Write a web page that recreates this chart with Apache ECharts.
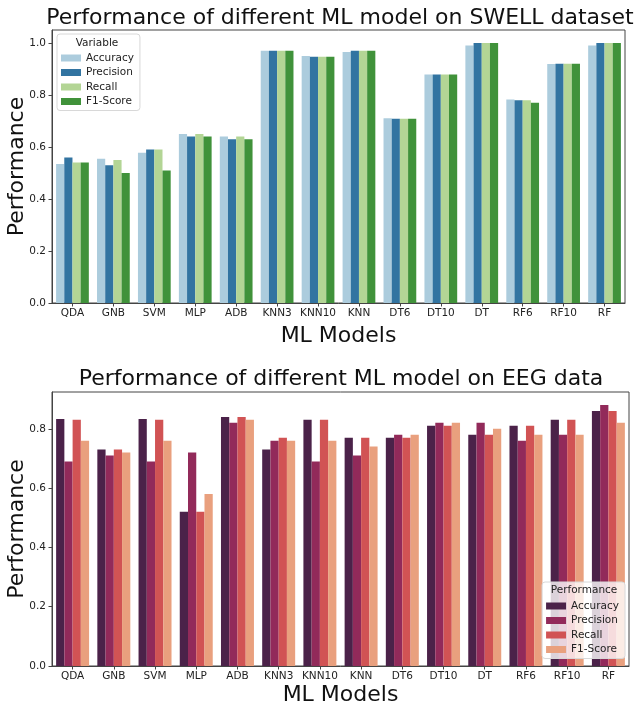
<!DOCTYPE html>
<html><head><meta charset="utf-8">
<script src="https://cdn.jsdelivr.net/npm/echarts@6/dist/echarts.min.js"></script>
<style>html,body{margin:0;padding:0;background:#fff}#c{width:634px;height:707px}</style>
</head><body><div id="c"></div>
<script>
const models = ['QDA','GNB','SVM','MLP','ADB','KNN3','KNN10','KNN','DT6','DT10','DT','RF6','RF10','RF'];
const metrics = ['Accuracy','Precision','Recall','F1-Score'];
const swellAccuracy  = [0.535,0.555,0.578,0.65,0.64,0.97,0.95,0.965,0.711,0.879,0.99,0.783,0.919,0.99];
const swellPrecision = [0.56,0.53,0.59,0.64,0.63,0.97,0.947,0.97,0.709,0.879,1.0,0.78,0.92,1.0];
const swellRecall    = [0.54,0.55,0.59,0.65,0.64,0.97,0.947,0.97,0.709,0.879,1.0,0.78,0.92,1.0];
const swellF1        = [0.54,0.50,0.51,0.64,0.63,0.97,0.947,0.97,0.709,0.879,1.0,0.77,0.92,1.0];
const eegAccuracy  = [0.833,0.73,0.833,0.52,0.84,0.73,0.83,0.77,0.77,0.81,0.78,0.81,0.83,0.86];
const eegPrecision = [0.69,0.71,0.69,0.72,0.82,0.76,0.69,0.71,0.78,0.82,0.82,0.76,0.78,0.88];
const eegRecall    = [0.83,0.73,0.83,0.52,0.84,0.77,0.83,0.77,0.77,0.81,0.78,0.81,0.83,0.86];
const eegF1        = [0.76,0.72,0.76,0.58,0.83,0.76,0.76,0.74,0.78,0.82,0.80,0.78,0.78,0.82];
const swellTicks = [0,0.2,0.4,0.6,0.8,1.0];
const eegTicks = [0,0.2,0.4,0.6,0.8];
const swellColors = ['#acccdd','#3274a1','#b3d595','#40923a'];
const eegColors = ['#4b2249','#922a5a','#d15354','#e9a07e'];

const FONT = 'DejaVu Sans';
const chart = echarts.init(document.getElementById('c'), null, {renderer:'canvas'});
const swellData = [swellAccuracy, swellPrecision, swellRecall, swellF1];
const eegData = [eegAccuracy, eegPrecision, eegRecall, eegF1];

function xAx(gi, gap){
  return {type:'category', gridIndex:gi, data:models,
    axisLine:{show:true, lineStyle:{color:'#444', width:1}},
    axisTick:{show:true, alignWithLabel:true, length:3.5, lineStyle:{color:'#444'}},
    axisLabel:{fontFamily:FONT, fontSize:10.5, color:'#222', margin:5, interval:0, hideOverlap:false},
    name:'ML Models', nameLocation:'middle', nameGap:gap, nameMoveOverlap:false,
    nameTextStyle:{fontFamily:FONT, fontSize:22, color:'#111'}};
}
function yAx(gi, max, ticks){
  return {type:'value', gridIndex:gi, min:0, max:max,
    axisLine:{show:true, lineStyle:{color:'#444', width:1}},
    axisTick:{show:true, length:3.5, lineStyle:{color:'#444'}, customValues:ticks},
    axisLabel:{fontFamily:FONT, fontSize:10.5, color:'#222', margin:6, customValues:ticks,
      formatter:v=>v.toFixed(1)},
    splitLine:{show:false},
    name:'Performance', nameLocation:'middle', nameGap:24, nameMoveOverlap:false,
    nameTextStyle:{fontFamily:FONT, fontSize:22, color:'#111'}};
}
const series = [];
metrics.forEach((m,i)=>{
  series.push({name:m, type:'bar', xAxisIndex:0, yAxisIndex:0, data:swellData[i],
    itemStyle:{color:swellColors[i]}, barGap:'0%', barCategoryGap:'20%'});
});
metrics.forEach((m,i)=>{
  series.push({name:'EEG:'+m, type:'bar', xAxisIndex:1, yAxisIndex:1, data:eegData[i],
    itemStyle:{color:eegColors[i]}, barGap:'0%', barCategoryGap:'20%'});
});
const legendCommon = {orient:'vertical', itemWidth:20, itemHeight:7, itemGap:2.5,
  icon:'rect', backgroundColor:'rgba(255,255,255,0.8)', borderColor:'#d8d8d8', borderWidth:1,
  borderRadius:3, textStyle:{fontFamily:FONT, fontSize:10.5, color:'#222', lineHeight:12},
  selectedMode:false, z:10};
chart.setOption({
  animation:false,
  backgroundColor:'#fff',
  title:[
    {text:'Performance of different ML model on SWELL dataset', left:340, textAlign:'center', top:7, padding:0,
      textStyle:{fontFamily:FONT, fontSize:22, fontWeight:'normal', color:'#111'}},
    {text:'Performance of different ML model on EEG data', left:341, textAlign:'center', top:368, padding:0,
      textStyle:{fontFamily:FONT, fontSize:22, fontWeight:'normal', color:'#111'}},
    {text:'Variable', left:97, textAlign:'center', top:38, padding:0, z:12,
      textStyle:{fontFamily:FONT, fontSize:10.5, fontWeight:'normal', color:'#222'}},
    {text:'Performance', left:584, textAlign:'center', top:585, padding:0, z:12,
      textStyle:{fontFamily:FONT, fontSize:10.5, fontWeight:'normal', color:'#222'}}
  ],
  legend:[
    Object.assign({}, legendCommon, {left:57, top:34, padding:[18,6,3,4],
      data:metrics}),
    Object.assign({}, legendCommon, {right:9, top:582, padding:[18,6,3,4],
      data:metrics.map(m=>'EEG:'+m), formatter:n=>n.replace('EEG:','')})
  ],
  grid:[
    {left:52, right:9, top:30, height:273, show:true, borderColor:'#444', borderWidth:1,
      backgroundColor:'transparent', containLabel:false, outerBoundsMode:'none'},
    {left:52, right:5, top:392, height:274, show:true, borderColor:'#444', borderWidth:1,
      backgroundColor:'transparent', containLabel:false, outerBoundsMode:'none'}
  ],
  xAxis:[xAx(0,22), xAx(1,18)],
  yAxis:[yAx(0,1.05,swellTicks), yAx(1,0.924,eegTicks)],
  series:series
});
</script></body></html>
